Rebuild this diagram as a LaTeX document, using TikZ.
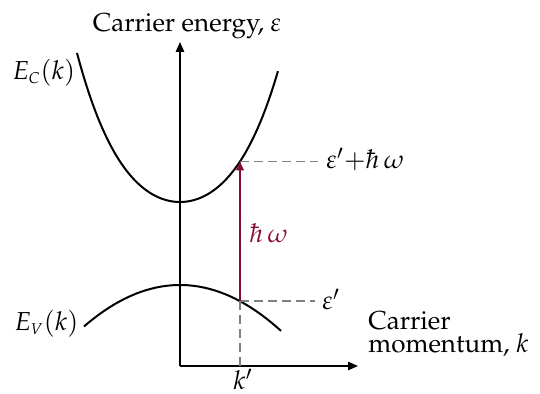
\documentclass[tikz,border=0pt]{standalone}
\usepackage[T1]{fontenc}
\usepackage{mathpazo}
\usepackage{xcolor}
\usepackage{tikz}
\usetikzlibrary{arrows.meta}
\definecolor{photon}{RGB}{135,12,50}
\tikzset{
  band/.style={
    line width=1pt
  },
  axis/.style={
    line width=0.8pt,
    -{Triangle[length=5pt,width=4.2pt]}
  },
  guide/.style={
    gray,
    line width=0.8pt,
    dash pattern=on 4.5pt off 2.5pt
  },
  transition/.style={
    photon,
    line width=1pt,
    -{Triangle[length=4.5pt,width=3.8pt]}
  },
  lbl/.style={
    inner sep=0pt,
    font=\fontsize{13}{13}\selectfont
  }
}

\begin{document}
\begin{tikzpicture}[x=0.5pt, y=-0.5pt]
  \useasboundingbox (0,0) rectangle (540,394);
  \coordinate (O) at (180,366);
  \coordinate (Etop) at (180,42);
  \coordinate (Kend) at (358,366);

  % axes
  \draw[axis] (O) -- (Etop);
  \draw[axis] (O) -- (Kend);

  % bands
  \draw[band] plot[domain=-1.03:0.98, samples=80, smooth]
    ({180+100*\x}, {202-98.2*\x*\x-39.8*\x*\x*\x*\x});
  \draw[band] plot[domain=-0.96:1.01, samples=60, smooth]
    ({180+100*\x}, {285+45*\x*\x});

  % transition at k'
  \coordinate (vk) at (240,{285+45*0.6*0.6});
  \coordinate (ck) at (240,{202-98.2*0.6*0.6-39.8*0.6*0.6*0.6*0.6});
  \coordinate (kk) at (240,366);
  \coordinate (eup) at (318,{202-98.2*0.6*0.6-39.8*0.6*0.6*0.6*0.6});
  \coordinate (elo) at (315,{285+45*0.6*0.6});
  \draw[guide] (ck) -- (eup);
  \draw[guide] (vk) -- (elo);
  \draw[guide] (vk) -- (kk);
  \draw[transition] (vk) -- (ck);

  % labels
  \node[lbl, anchor=base] (title) at (187,32) {Carrier energy, $\varepsilon$};
  \node[lbl, anchor=base west] (EC) at (12,80) {$E_{\scriptscriptstyle C}(k)$};
  \node[lbl, anchor=base west] (EV) at (14,331) {$E_{\scriptscriptstyle V}(k)$};
  \node[lbl, anchor=base west] (upper) at (326,169) {$\varepsilon'{+}\hbar\,\omega$};
  \node[lbl, anchor=base west] (lower) at (322,310) {$\varepsilon'$};
  \node[lbl, anchor=base west, text=photon] (hw) at (249,243) {$\hbar\,\omega$};
  \node[lbl, anchor=base] (kp) at (243,389.5) {$k'$};
  \node[lbl, anchor=base west, align=left,
    font=\fontsize{13}{11.5}\selectfont] (mom) at (368,353)
    {Carrier\\momentum, $k$};
\end{tikzpicture}
\end{document}
